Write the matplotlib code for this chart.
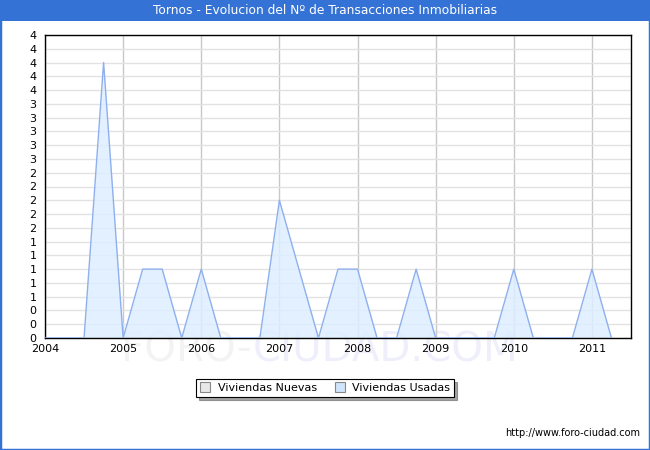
import matplotlib
matplotlib.use("Agg")
import matplotlib.pyplot as plt
from matplotlib.patches import Rectangle
from matplotlib.lines import Line2D
import numpy as np

plt.rcParams['font.family'] = ['DejaVu Sans']

title = "Tornos - Evolucion del Nº de Transacciones Inmobiliarias"
years = [2004]*4 + [2005]*4 + [2006]*4 + [2007]*4 + [2008]*4 + [2009]*4 + [2010]*4 + [2011]*2
quarters = [1, 2, 3, 4]*7 + [1, 2]
usadas = [0, 0, 0, 4, 0, 1, 1, 0, 1, 0, 0, 0, 2, 1, 0, 1, 1, 0, 0, 1, 0, 0, 0, 0, 1, 0, 0, 0, 1, 0]
nuevas = [0]*30
xticks = [2004, 2005, 2006, 2007, 2008, 2009, 2010, 2011]
legend_labels = ["Viviendas Nuevas", "Viviendas Usadas"]

x = np.array(years) + (np.array(quarters) - 1) * 0.25

W, H = 650, 450
fig = plt.figure(figsize=(W/100, H/100), dpi=100)
fig.patch.set_facecolor('white')

blue = '#3572d6'
# border and title bar
fig.add_artist(Rectangle((0, 0), 1, 1, transform=fig.transFigure, fill=False,
                         edgecolor=blue, linewidth=2.5, zorder=10))
fig.add_artist(Rectangle((0, 1 - 21/H), 1, 21/H, transform=fig.transFigure,
                         facecolor=blue, edgecolor='none', zorder=9))
fig.text(0.5, 1 - 11/H, title, ha='center', va='center', color='white',
         fontsize=8.8, zorder=11)

# watermark (behind everything)
fig.text(252/W, (H-351)/H, "FORO-", ha='right', va='center',
         fontsize=29, color='#f3f3f3', zorder=-1)
fig.text(253/W, (H-351)/H, "CIUDAD.COM", ha='left', va='center',
         fontsize=29, color='#efeffb', zorder=-1)

ax = fig.add_axes([45/W, (H-338)/H, (631-45)/W, (338-35)/H])
ax.patch.set_alpha(0)

ax.fill_between(x, usadas, 0, color='#ddeeff', alpha=0.85, zorder=2, linewidth=0)
ax.plot(x, usadas, color='#8fb0ee', linewidth=1.0, zorder=3)
ax.plot(x, nuevas, color='#a0a0a0', linewidth=0.8, zorder=2)

ymax = 4.4
ax.set_xlim(2004, 2011.5)
ax.set_ylim(0, ymax)
yt = np.arange(0, 23) * 0.2
ax.set_yticks(yt)
ax.set_yticklabels(["%.0f" % v for v in yt])
ax.set_xticks(xticks)
ax.set_xticklabels([str(v) for v in xticks])
ax.grid(axis='y', color='#e2e2e2', linewidth=1.0, zorder=0)
ax.grid(axis='x', color='#c8c8c8', linewidth=1.0, zorder=0)
ax.set_axisbelow(True)
ax.tick_params(axis='both', length=0, labelsize=8, pad=4, colors='black')
ax.tick_params(axis='y', pad=6)
for s in ax.spines.values():
    s.set_color('black')
    s.set_linewidth(1.0)

handles = [Line2D([], [], linestyle='none', marker='s', markersize=6.5,
                  markerfacecolor='#e8e8e8', markeredgecolor='#888888', markeredgewidth=0.8),
           Line2D([], [], linestyle='none', marker='s', markersize=6.5,
                  markerfacecolor='#cfe5fb', markeredgecolor='#888888', markeredgewidth=0.8)]
leg = fig.legend(handles, legend_labels, loc='center', bbox_to_anchor=(325/W, (H-388)/H),
                 ncol=2, fontsize=8, frameon=True, fancybox=False, shadow=True,
                 handletextpad=0.6, columnspacing=1.6, borderpad=0.35, handlelength=1.0)
leg.get_frame().set_edgecolor('black')
leg.get_frame().set_linewidth(0.8)

fig.text(640/W, (H-433)/H, "http://www.foro-ciudad.com", ha='right', va='center',
         fontsize=7, color='black')

fig.savefig('out.png', dpi=100)
